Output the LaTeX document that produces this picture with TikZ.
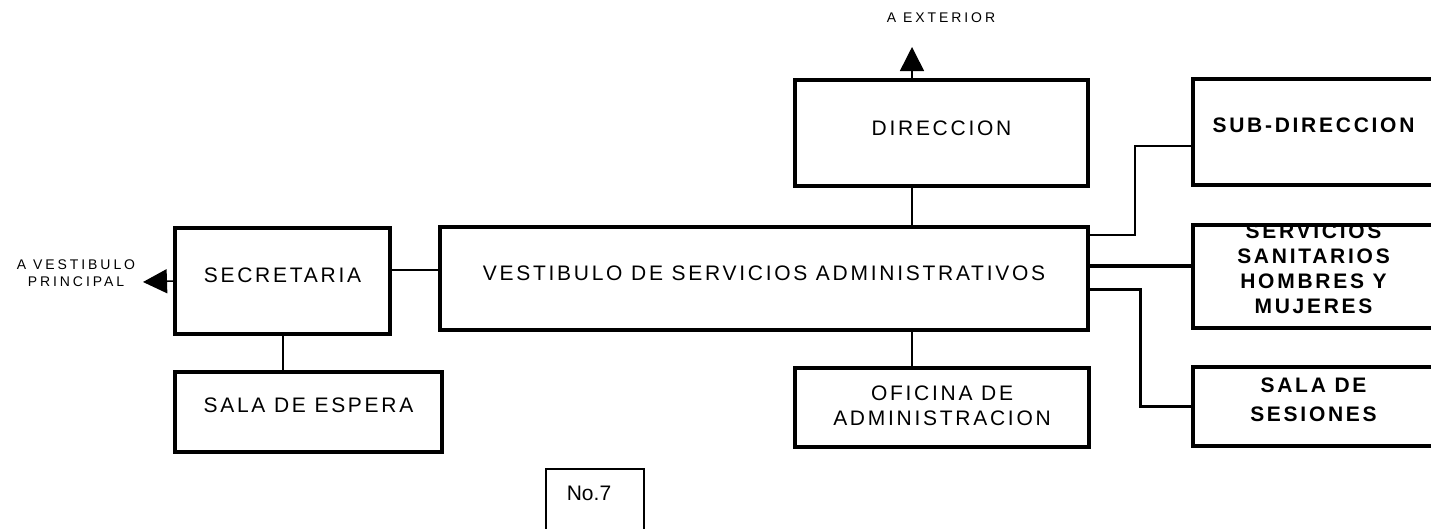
\documentclass[tikz,border=0pt]{standalone}
\usepackage{fontspec}
\usetikzlibrary{arrows.meta}
\setmainfont{Liberation Sans}
\newfontfamily\roomfont[LetterSpace=13]{Liberation Sans}
\newfontfamily\notefont[LetterSpace=21]{Liberation Sans}

\tikzset{
	room/.style={draw, line width=4.5pt, inner sep=0pt, outer sep=0pt},
	roomtext/.style={font=\roomfont\fontsize{21}{25}\selectfont, align=center, inner sep=0pt},
	boldtext/.style={font=\roomfont\bfseries\fontsize{21}{25}\selectfont, align=center, inner sep=0pt},
	notetext/.style={font=\notefont\fontsize{14}{17}\selectfont, align=center, inner sep=0pt},
	link/.style={line width=2pt},
	exitarrow/.style={-{Triangle[width=24pt,length=24pt]}, line width=1.5pt},
}

\begin{document}
\begin{tikzpicture}[x=1pt, y=-1pt]
	\path[use as bounding box] (0,0) rectangle (1431,528);
	\clip (0,0) rectangle (1431,528);

	% rooms
	\node[room, minimum width=215pt, minimum height=106pt] (secr) at (282.5,281) {};
	\node[room, minimum width=267pt, minimum height=80pt] (espera) at (308.5,412) {};
	\node[room, minimum width=648pt, minimum height=103pt] (vest) at (764,278.5) {};
	\node[room, minimum width=293pt, minimum height=106pt] (direc) at (941.5,133) {};
	\node[room, minimum width=294pt, minimum height=79pt] (ofic) at (942,407.5) {};
	\node[room, minimum width=241pt, minimum height=106pt] (subdir) at (1313.5,132) {};
	\node[room, minimum width=241pt, minimum height=103pt] (serv) at (1313.5,276.5) {};
	\node[room, minimum width=241pt, minimum height=79pt] (ses) at (1313.5,406.5) {};
	\node[draw, line width=1.5pt, minimum width=98pt, minimum height=80pt, outer sep=0pt] (num) at (595,509) {};

	% room names
	\node[roomtext] (secr-t) at ([yshift=6pt]secr) {SECRETARIA};
	\node[roomtext] (espera-t) at ([yshift=7pt]espera) {SALA DE ESPERA};
	\node[roomtext] (vest-t) at ([yshift=5.5pt]vest) {VESTIBULO DE SERVICIOS ADMINISTRATIVOS};
	\node[roomtext] (direc-t) at ([yshift=5pt]direc) {DIRECCION};
	\node[roomtext] (ofic-t) at ([yshift=2pt]ofic) {OFICINA DE\\ADMINISTRACION};
	\node[boldtext] (subdir-t) at ([yshift=7pt]subdir) {SUB-DIRECCION};
	\node[boldtext] (serv-t) at ([yshift=8pt]serv) {SERVICIOS\\SANITARIOS\\HOMBRES Y\\MUJERES};
	\node[boldtext, font=\roomfont\bfseries\fontsize{21}{29}\selectfont] (ses-t) at ([yshift=7pt]ses) {SALA DE\\SESIONES};
	\node[font=\fontsize{21}{24}\selectfont, inner sep=0pt] (num-t) at (589,493) {No.7};
	\draw[line width=4.5pt] (serv.north west) -- (serv.north east);

	% exits
	\node[notetext] (hall-note) at (76,273.5) {A VESTIBULO\\PRINCIPAL};
	\node[notetext] (street-note) at (941,18) {A EXTERIOR};
	\coordinate (to-hall) at (143,282);
	\coordinate (dir-up) at ([xshift=-29.5pt]direc.north);
	\coordinate (to-street) at (912,47);
	\draw[exitarrow] (secr.west) -- (to-hall);
	\draw[exitarrow] (dir-up) -- (to-street);

	% links
	\coordinate (secr-out) at ([yshift=11pt]secr.east);
	\draw[link] (secr-out) -- (secr-out -| vest.west);
	\draw[link] (secr.south) -- (secr.south |- espera.north);
	\coordinate (dir-down) at ([xshift=-29.5pt]direc.south);
	\draw[link] (dir-down) -- (dir-down |- vest.north);
	\draw[link] (dir-down |- vest.south) -- (dir-down |- ofic.north);
	\coordinate (vest-sub) at ([yshift=43.5pt]vest.east);
	\draw[link] (vest-sub) -- ++(47,0) |- ([yshift=-14pt]subdir.west);
	\coordinate (vest-serv) at ([yshift=12.5pt]vest.east);
	\draw[link, line width=4pt] (vest-serv) -- (vest-serv -| serv.west);
	\coordinate (vest-ses) at ([yshift=-10.5pt]vest.east);
	\draw[link, line width=3pt] (vest-ses) -- ++(52,0) |- (ses.west);
\end{tikzpicture}
\end{document}
